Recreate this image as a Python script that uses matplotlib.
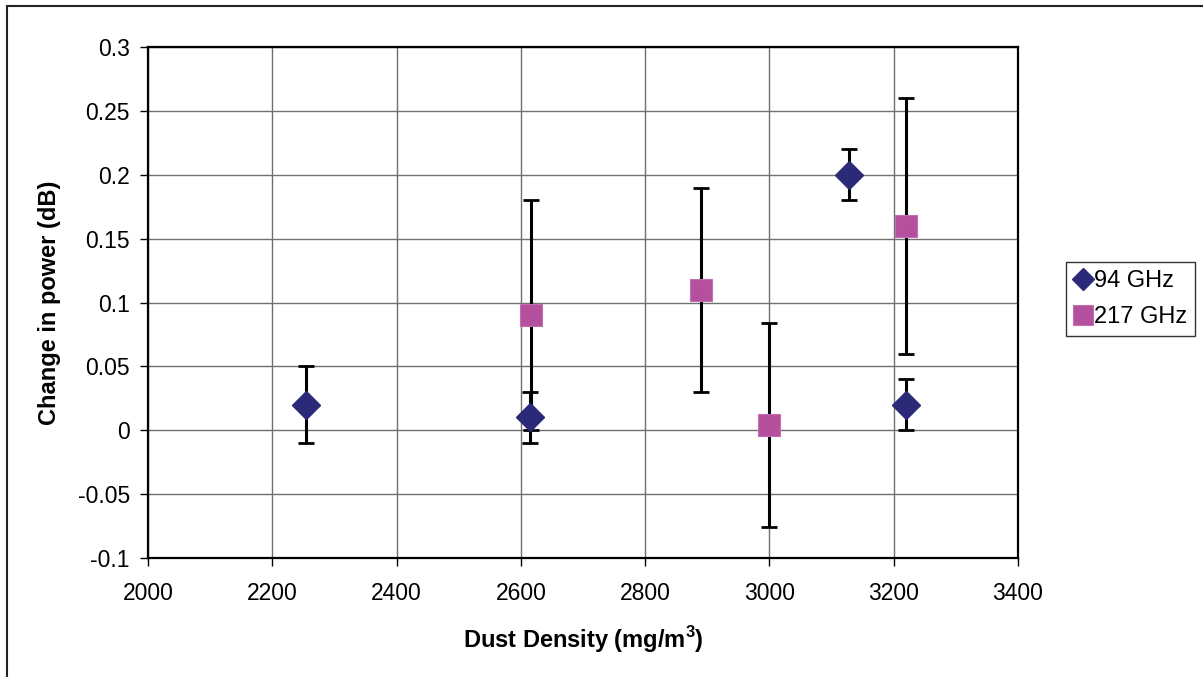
import matplotlib
matplotlib.use("Agg")
import matplotlib.pyplot as plt
from matplotlib.ticker import FuncFormatter, MultipleLocator
from matplotlib.patches import Rectangle

plt.rcParams['font.family'] = ['Liberation Sans', 'DejaVu Sans']
plt.rcParams['axes.unicode_minus'] = False
plt.rcParams['mathtext.fontset'] = 'custom'
plt.rcParams['mathtext.rm'] = 'Liberation Sans'
plt.rcParams['mathtext.bf'] = 'Liberation Sans:bold'

# data
x_94 = [2255, 2615, 3128, 3220]
y_94 = [0.02, 0.01, 0.20, 0.02]
err_94 = [0.03, 0.02, 0.02, 0.02]

x_217 = [2617, 2890, 3000, 3220]
y_217 = [0.09, 0.11, 0.004, 0.16]
err_217 = [0.09, 0.08, 0.08, 0.10]

labels = ['94 GHz', '217 GHz']
xlabel = 'Dust Density (mg/m$^{\\mathbf{3}}$)'
ylabel = 'Change in power (dB)'

W, H = 1203, 677
fig = plt.figure(figsize=(W / 100, H / 100), dpi=100)
ax = fig.add_axes([148 / W, 1 - 558 / H, (1018 - 148) / W, (558 - 47) / H])

# outer border
fig.patches.append(Rectangle((7 / W, -0.1), 1.2, (1 - 6 / H) + 0.1, transform=fig.transFigure,
                             fill=False, edgecolor='#222222', linewidth=1.5, zorder=0))

c94 = '#2a2a78'
c217 = '#b5509f'
ebkw = dict(fmt='none', ecolor='black', elinewidth=2.2, capsize=5.5, capthick=2, zorder=2)
ax.errorbar(x_94, y_94, yerr=err_94, **ebkw)
ax.errorbar(x_217, y_217, yerr=err_217, **ebkw)
ax.plot(x_94, y_94, linestyle='none', marker='D', ms=14.5, color=c94, mec=c94, zorder=3, label=labels[0])
ax.plot(x_217, y_217, linestyle='none', marker='s', ms=16, color=c217, mec='#c070b0', mew=0.8, zorder=3, label=labels[1])

ax.set_xlim(2000, 3400)
ax.set_ylim(-0.1, 0.3)
ax.xaxis.set_major_locator(MultipleLocator(200))
ax.yaxis.set_major_locator(MultipleLocator(0.05))
ax.yaxis.set_major_formatter(FuncFormatter(lambda v, p: '%g' % round(v, 4)))
ax.grid(True, color='#707070', linewidth=1)
ax.set_axisbelow(True)
for s in ax.spines.values():
    s.set_linewidth(1.6)
    s.set_color('black')
ax.tick_params(axis='both', direction='out', length=6, width=1, labelsize=16.5, color='black')
ax.tick_params(axis='x', pad=11)
ax.tick_params(axis='y', pad=7)

ax.set_xlabel(xlabel, fontsize=17, fontweight='bold', labelpad=14)
ax.set_ylabel(ylabel, fontsize=17, fontweight='bold', labelpad=12)

leg = fig.legend(loc='upper left', bbox_to_anchor=(1066 / W, 1 - 262 / H), frameon=True, fancybox=False,
                 edgecolor='black', fontsize=17, handlelength=0.75, handletextpad=0.12, borderpad=0.33,
                 labelspacing=0.6, markerscale=1, borderaxespad=0)
leg.get_frame().set_linewidth(1)
hs = leg.legend_handles
hs[0].set_markersize(10.7)
hs[1].set_markersize(14.4)

fig.savefig('out.png', dpi=100)
